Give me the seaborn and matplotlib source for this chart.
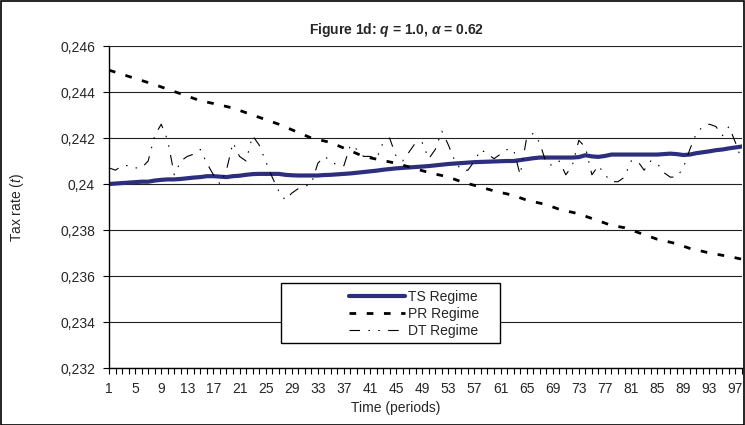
"""
plot.py

Tax rate paths under the TS, PR and DT regimes (figure 1d).
"""

import pandas as pd
import matplotlib.pyplot as plt
from matplotlib.patches import Rectangle
import seaborn as sns

#=======================================================================
#  Data
#=======================================================================

periods = list(range(1, 99))

ts_regime = [
    0.24000, 0.24002, 0.24004, 0.24006, 0.24008, 0.24010, 0.24010, 0.24015, 0.24018, 0.24020,
    0.24020, 0.24022, 0.24025, 0.24028, 0.24030, 0.24034, 0.24034, 0.24032, 0.24030, 0.24034,
    0.24036, 0.24040, 0.24043, 0.24044, 0.24044, 0.24044, 0.24044, 0.24040, 0.24038, 0.24037,
    0.24037, 0.24037, 0.24037, 0.24039, 0.24040, 0.24042, 0.24044, 0.24046, 0.24049, 0.24052,
    0.24055, 0.24058, 0.24062, 0.24065, 0.24068, 0.24070, 0.24072, 0.24074, 0.24076, 0.24078,
    0.24081, 0.24084, 0.24087, 0.24089, 0.24091, 0.24093, 0.24095, 0.24096, 0.24097, 0.24098,
    0.24099, 0.24100, 0.24100, 0.24104, 0.24108, 0.24112, 0.24115, 0.24115, 0.24115, 0.24115,
    0.24115, 0.24115, 0.24117, 0.24125, 0.24120, 0.24118, 0.24122, 0.24128, 0.24128, 0.24128,
    0.24128, 0.24128, 0.24128, 0.24128, 0.24128, 0.24130, 0.24132, 0.24130, 0.24126, 0.24128,
    0.24134, 0.24138, 0.24142, 0.24147, 0.24150, 0.24155, 0.24159, 0.24163,
]

pr_regime = [
    0.24495, 0.24486, 0.24477, 0.24468, 0.24459, 0.24450, 0.24441, 0.24432, 0.24422, 0.24412,
    0.24402, 0.24392, 0.24382, 0.24372, 0.24362, 0.24356, 0.24350, 0.24343, 0.24337, 0.24330,
    0.24320, 0.24310, 0.24300, 0.24290, 0.24280, 0.24270, 0.24260, 0.24248, 0.24236, 0.24224,
    0.24212, 0.24200, 0.24193, 0.24187, 0.24180, 0.24168, 0.24156, 0.24144, 0.24132, 0.24120,
    0.24114, 0.24108, 0.24102, 0.24096, 0.24090, 0.24082, 0.24074, 0.24066, 0.24058, 0.24050,
    0.24043, 0.24037, 0.24030, 0.24020, 0.24010, 0.24002, 0.23994, 0.23987, 0.23978, 0.23970,
    0.23963, 0.23957, 0.23950, 0.23940, 0.23930, 0.23923, 0.23917, 0.23910, 0.23900, 0.23890,
    0.23883, 0.23877, 0.23870, 0.23860, 0.23850, 0.23840, 0.23830, 0.23820, 0.23815, 0.23810,
    0.23800, 0.23790, 0.23780, 0.23770, 0.23760, 0.23753, 0.23747, 0.23740, 0.23730, 0.23720,
    0.23713, 0.23707, 0.23700, 0.23695, 0.23690, 0.23685, 0.23679, 0.23673,
]

dt_regime = [
    0.2407, 0.2406, 0.2408, 0.2408, 0.2407, 0.2407, 0.2410, 0.2421, 0.2426, 0.2419,
    0.2404, 0.2410, 0.2412, 0.2413, 0.2415, 0.2409, 0.2404, 0.2400, 0.2406, 0.2418,
    0.2412, 0.2410, 0.2421, 0.2417, 0.2410, 0.2403, 0.2397, 0.2393, 0.2396, 0.2398,
    0.2399, 0.2400, 0.2409, 0.2412, 0.2410, 0.2408, 0.2408, 0.2417, 0.2415, 0.2412,
    0.2412, 0.2411, 0.2418, 0.2420, 0.2412, 0.2410, 0.2414, 0.2418, 0.2418, 0.2411,
    0.2415, 0.2423, 0.2417, 0.2410, 0.2406, 0.2406, 0.2410, 0.2415, 0.2413, 0.2411,
    0.2413, 0.2415, 0.2415, 0.2404, 0.2420, 0.2422, 0.2418, 0.2409, 0.2408, 0.2410,
    0.2404, 0.2408, 0.2419, 0.2416, 0.2404, 0.2408, 0.2404, 0.2401, 0.2401, 0.2403,
    0.2410, 0.2410, 0.2406, 0.2410, 0.2409, 0.2405, 0.2403, 0.2403, 0.2407, 0.2415,
    0.2422, 0.2425, 0.2426, 0.2425, 0.2421, 0.2425, 0.2418, 0.2410,
]

regimes = ['TS Regime', 'PR Regime', 'DT Regime']

ytick_vals = [0.232, 0.234, 0.236, 0.238, 0.240, 0.242, 0.244, 0.246]
ytick_labels = ['0,232', '0,234', '0,236', '0,238', '0,24', '0,242', '0,244', '0,246']
xtick_vals = list(range(1, 98, 4))

#=======================================================================
#  Style
#=======================================================================

sns.set_style('white')
plt.rcParams['font.family'] = ['Liberation Sans', 'DejaVu Sans']
plt.rcParams['font.size'] = 10
plt.rcParams['mathtext.fontset'] = 'custom'
plt.rcParams['mathtext.rm'] = 'Liberation Sans'
plt.rcParams['mathtext.it'] = 'Liberation Sans:italic'
plt.rcParams['mathtext.bf'] = 'Liberation Sans:bold'
plt.rcParams['mathtext.bfit'] = 'Liberation Sans:italic:bold'

#
#  Long form table for seaborn
#

wide = pd.DataFrame({
    'period': periods,
    'TS Regime': ts_regime,
    'PR Regime': pr_regime,
    'DT Regime': dt_regime,
    })

long = wide.melt(id_vars='period', var_name='Regime', value_name='rate')

#=======================================================================
#  Draw the plot
#=======================================================================

W, H = 745, 425
top, bot = 46, 368
fig = plt.figure(figsize=(W/100, H/100), dpi=100)
ax = fig.add_axes([109/W, 1-bot/H, 633/W, (bot-top)/H])

def ax_y(py):
    return (bot-py)/(bot-top)

sns.lineplot(data=long, x='period', y='rate',
             hue='Regime', style='Regime', size='Regime',
             hue_order=regimes, style_order=regimes, size_order=regimes,
             palette={'TS Regime': '#2D2E7E', 'PR Regime': 'black', 'DT Regime': 'black'},
             dashes={'TS Regime': '', 'PR Regime': (2.4, 3.8),
                     'DT Regime': (9.5, 7.5, 1.4, 7.5, 1.4, 7.5)},
             sizes={'TS Regime': 3.0, 'PR Regime': 2.0, 'DT Regime': 0.8},
             legend=False, ax=ax)

ax.set_xlim(1, 98)
ax.set_ylim(0.232, 0.246)

ax.set_xticks(xtick_vals)
ax.set_xticks(periods, minor=True)
ax.set_yticks(ytick_vals)
ax.set_yticklabels(ytick_labels)

ax.tick_params(axis='x', which='both', direction='out', length=4,
               width=0.8, bottom=True, color='black', labelsize=10, pad=6)
ax.tick_params(axis='y', direction='out', length=4, width=0.8,
               left=True, color='black', labelsize=10, pad=6)

ax.yaxis.grid(True, color='#222222', linewidth=0.8)
ax.set_axisbelow(True)

for side in ['top', 'right']:
    ax.spines[side].set_visible(False)
for side in ['left', 'bottom']:
    ax.spines[side].set_color('black')
    ax.spines[side].set_linewidth(1.0)

ax.set_xlabel('Time (periods)', fontsize=10)
ax.xaxis.set_label_coords((396-109)/633, ax_y(401))
ax.set_ylabel('Tax rate ($t$)', fontsize=10)
ax.yaxis.set_label_coords((17-109)/633, 0.5)
ax.yaxis.label.set_va('center')

#
#  Legend: white box with black edge, entries set inside it
#

box = Rectangle(((281-109)/633, ax_y(343)), 219/633, 60/(bot-top),
                transform=ax.transAxes, facecolor='white',
                edgecolor='black', linewidth=1.0, zorder=4)
ax.add_patch(box)

leg = ax.legend(handles=ax.get_lines()[:3], labels=regimes,
                loc='upper left', bbox_to_anchor=((342-109)/633, ax_y(283)),
                frameon=False, borderpad=0, handlelength=4.0,
                handletextpad=0.25, labelspacing=0.2, fontsize=10)
leg.set_zorder(5)

#
#  Title and outer chart border
#

fig.text(397/W, 1-30/H, 'Figure 1d: $\\mathbfit{q}$ = 1.0, $\\mathbfit{\\alpha}$ = 0.62',
         ha='center', va='center', fontsize=10, fontweight='bold')

fig.add_artist(Rectangle((0.5/W, 0.5/H), 1-1.5/W, 1-1.5/H,
                         transform=fig.transFigure, fill=False,
                         edgecolor='black', linewidth=1.2))

fig.savefig('out.png', dpi=100)
